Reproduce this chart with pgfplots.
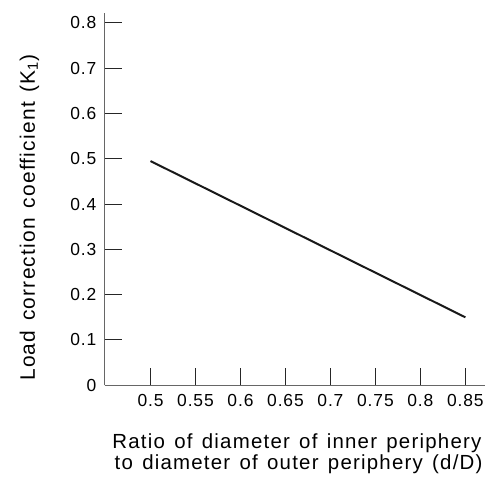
\documentclass[border=0pt]{standalone}
\usepackage{pgfplots}
\pgfplotsset{compat=1.18}
\usepackage{fontspec}
\setmainfont{Liberation Sans}
\newfontfamily\tickfont[LetterSpace=5]{Liberation Sans}
\newfontfamily\labfont[LetterSpace=6,WordSpace=1.35]{Liberation Sans}
\begin{document}
\begin{tikzpicture}
\begin{axis}[
  name=ax, at={(0,0)}, anchor=south west,
  scale only axis, width=382pt, height=373.7pt,
  xmin=0.449, xmax=0.872, ymin=0, ymax=0.822,
  axis x line=bottom, axis y line=left,
  axis line style={-, draw=black!60, line width=1.2pt},
  xtick={0.5,0.55,0.6,0.65,0.7,0.75,0.8,0.85},
  xticklabels={0.5,0.55,0.6,0.65,0.7,0.75,0.8,0.85},
  ytick={0.1,0.2,0.3,0.4,0.5,0.6,0.7,0.8},
  yticklabels={0.1,0.2,0.3,0.4,0.5,0.6,0.7,0.8},
  extra y ticks={0}, extra y tick labels={0},
  extra y tick style={major tick length=0pt},
  tick align=inside, major tick length=17pt,
  tick style={draw=black!85, line width=1pt},
  yticklabel style={font=\tickfont\fontsize{17.5}{20}\selectfont, xshift=-4.7pt},
  xticklabel style={font=\tickfont\fontsize{17.5}{20}\selectfont, yshift=-5.8pt},
  clip=false,
]
\addplot[line width=2pt, draw=black!90] coordinates {(0.5,0.495) (0.85,0.15)};
\end{axis}
\node[font=\labfont\fontsize{20.5}{24}\selectfont, anchor=base] at ([xshift=193pt,yshift=-63.3pt]ax.south west) {Ratio of diameter of inner periphery};
\node[font=\labfont\fontsize{20.5}{24}\selectfont, anchor=base] at ([xshift=194.7pt,yshift=-85pt]ax.south west) {to diameter of outer periphery (d/D)};
\node[font=\labfont\fontsize{21}{24}\selectfont, anchor=base, rotate=90] at ([xshift=-70pt,yshift=168.2pt]ax.south west) {Load correction coefficient (K\textsubscript{1})};
\path[use as bounding box] ([xshift=-105pt,yshift=-92.3pt]ax.south west) rectangle ([xshift=382pt,yshift=386.7pt]ax.south west);
\end{tikzpicture}
\end{document}
